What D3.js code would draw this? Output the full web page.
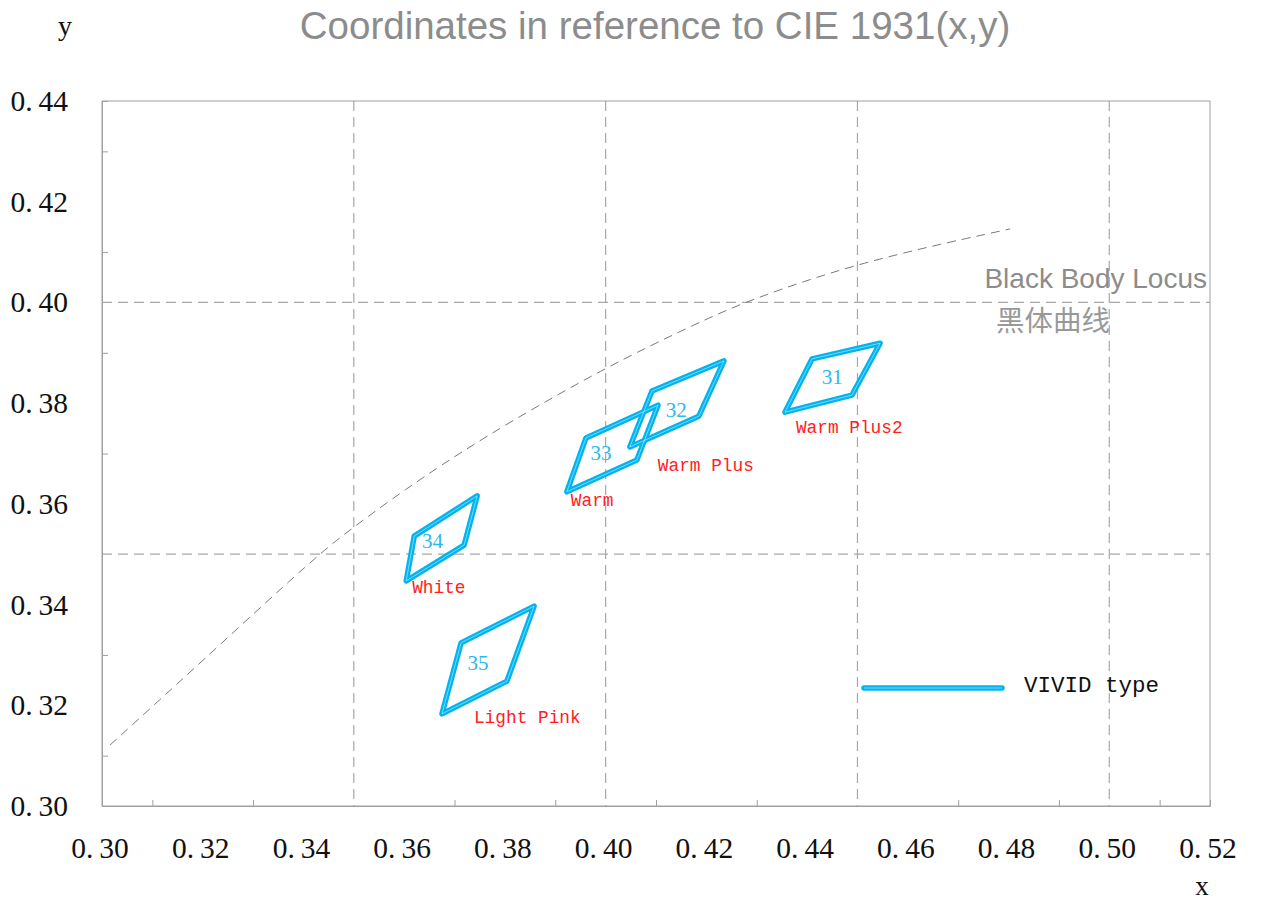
<!DOCTYPE html>
<html><head><meta charset="utf-8">
<script src="https://cdn.jsdelivr.net/npm/d3@7"></script>
<style>body{margin:0;background:#fff;} svg{display:block;}</style>
</head><body>
<svg id="c" width="1261" height="903"></svg>
<script>
// ---- data ----
const xTickValues = [0.30,0.32,0.34,0.36,0.38,0.40,0.42,0.44,0.46,0.48,0.50,0.52];
const yTickValues = [0.30,0.32,0.34,0.36,0.38,0.40,0.42,0.44];
const minorXTicks = [0.31,0.33,0.37,0.39,0.41,0.43,0.47,0.49,0.51];
const minorYTicks = [0.31,0.33,0.37,0.39,0.41,0.43];
const gridX = [0.35,0.40,0.45,0.50];
const gridY = [0.35,0.40];
// black body locus (x, y)
const bbX = [0.3016,0.3195,0.3429,0.3500,0.3592,0.3751,0.4000,0.4187,0.4273,0.4501,0.4803];
const bbY = [0.3121,0.3284,0.3500,0.3554,0.3622,0.3729,0.3872,0.3961,0.4000,0.4080,0.4146];
// quadrangles
const quadIds = ["31","32","33","34","35"];
const quadNames = ["Warm Plus2","Warm Plus","Warm","White","Light Pink"];
const quadXs = [
  [0.4356,0.4410,0.4545,0.4489],
  [0.4048,0.4092,0.4235,0.4185],
  [0.3923,0.3961,0.4104,0.4062],
  [0.3604,0.3620,0.3745,0.3719],
  [0.3675,0.3713,0.3858,0.3804]
];
const quadYs = [
  [0.3782,0.3888,0.3919,0.3816],
  [0.3713,0.3824,0.3884,0.3774],
  [0.3624,0.3731,0.3796,0.3687],
  [0.3447,0.3536,0.3616,0.3518],
  [0.3183,0.3324,0.3397,0.3248]
];
const legendLabel = "VIVID type";

// ---- layout ----
const L=102, R=1210, T=101, B=806;
const x = d3.scaleLinear().domain([0.30,0.52]).range([L,R]);
const y = d3.scaleLinear().domain([0.30,0.44]).range([B,T]);
const svg = d3.select("#c");
const gray = "#8c8c8c";
const cyan = "#00b4f0";
const inner = "rgba(230,248,255,0.75)";
const serif = "'Liberation Serif','Times New Roman',serif";
const sans = "'Liberation Sans',Arial,sans-serif";
const mono = "'Liberation Mono','DejaVu Sans Mono',monospace";

// grid
svg.append("g").selectAll("line").data(gridX).join("line")
  .attr("x1",d=>x(d)).attr("x2",d=>x(d)).attr("y1",T).attr("y2",B)
  .attr("stroke","#a8a8a8").attr("stroke-width",1.2).attr("stroke-dasharray","10,6");
svg.append("g").selectAll("line").data(gridY).join("line")
  .attr("y1",d=>y(d)).attr("y2",d=>y(d)).attr("x1",L).attr("x2",R)
  .attr("stroke","#a8a8a8").attr("stroke-width",1.2).attr("stroke-dasharray","10,6");

// frame
svg.append("rect").attr("x",L).attr("y",T).attr("width",R-L).attr("height",B-T)
  .attr("fill","none").attr("stroke","#a0a0a0").attr("stroke-width",1);

// axes with minor ticks (inward)
const gx = svg.append("g").attr("transform",`translate(0,${B})`)
  .call(d3.axisBottom(x).tickValues(minorXTicks).tickSize(-6).tickFormat(""));
const gy = svg.append("g").attr("transform",`translate(${L},0)`)
  .call(d3.axisLeft(y).tickValues(minorYTicks).tickSize(-6).tickFormat(""));
[gx,gy].forEach(g=>{g.select(".domain").attr("stroke","#a0a0a0");g.selectAll(".tick line").attr("stroke","#a0a0a0");});

// tick labels
function fmtLabel(sel,d){
  const s=d.toFixed(2);
  sel.append("tspan").text(s.slice(0,2));
  sel.append("tspan").attr("dx",6).text(s.slice(2));
}
svg.append("g").selectAll("text").data(xTickValues).join("text")
  .attr("x",d=>x(d)-2).attr("y",858).attr("text-anchor","middle")
  .attr("font-family",serif).attr("font-size",29.5).attr("fill","#111")
  .each(function(d){fmtLabel(d3.select(this),d);});
svg.append("g").selectAll("text").data(yTickValues).join("text")
  .attr("x",68).attr("y",d=>y(d)+10).attr("text-anchor","end")
  .attr("font-family",serif).attr("font-size",29.5).attr("fill","#111")
  .each(function(d){fmtLabel(d3.select(this),d);});

// axis names
svg.append("text").attr("x",65).attr("y",35).attr("text-anchor","middle")
  .attr("font-family",serif).attr("font-size",28).attr("fill","#111").text("y");
svg.append("text").attr("x",1202).attr("y",895).attr("text-anchor","middle")
  .attr("font-family",serif).attr("font-size",27).attr("fill","#111").text("x");

// title
svg.append("text").attr("x",655).attr("y",39).attr("text-anchor","middle")
  .attr("font-family",sans).attr("font-size",38.5)
  .attr("fill",gray).text("Coordinates in reference to CIE 1931(x,y)");

// black body locus
const bb = bbX.map((v,i)=>[v,bbY[i]]);
svg.append("path").datum(bb)
  .attr("d",d3.line().x(d=>x(d[0])).y(d=>y(d[1])).curve(d3.curveBasis))
  .attr("fill","none").attr("stroke","#7a7a7a").attr("stroke-width",1).attr("stroke-dasharray","9,6");
svg.append("text").attr("x",1207).attr("y",288).attr("text-anchor","end")
  .attr("font-family",sans).attr("font-size",28)
  .attr("fill",gray).text("Black Body Locus");
svg.append("text").attr("x",1053).attr("y",331).attr("text-anchor","middle")
  .attr("font-family","'Noto Sans CJK SC',sans-serif").attr("font-size",28.5)
  .attr("fill","#999").text("黑体曲线");

// quadrangles
const line = d3.line().x(d=>x(d[0])).y(d=>y(d[1])).curve(d3.curveLinearClosed);
const quads = quadXs.map((xs,i)=>xs.map((v,j)=>[v,quadYs[i][j]]));
const gq = svg.append("g");
gq.selectAll("path.o").data(quads).join("path").attr("class","o")
  .attr("d",line).attr("fill","none").attr("stroke",cyan).attr("stroke-width",5.5)
  .attr("stroke-linejoin","round");
gq.selectAll("path.i").data(quads).join("path").attr("class","i")
  .attr("d",line).attr("fill","none").attr("stroke",inner).attr("stroke-width",0.7)
  .attr("stroke-linejoin","round");

// id labels: centred in each quadrangle
const idDx=[0,0,-11,-8,-8], idDy=[0,6,4,2,2];
svg.append("g").selectAll("text").data(quads).join("text")
  .attr("x",(d,i)=>x(d3.mean(d,p=>p[0]))+idDx[i])
  .attr("y",(d,i)=>y(d3.mean(d,p=>p[1]))+7+idDy[i])
  .attr("text-anchor","middle").attr("font-family",serif).attr("font-size",21)
  .attr("fill","#2ab8ee").text((d,i)=>quadIds[i]);

// name labels: below the lower-left corner
const nameDx=[11,28,4,6,32];
const nameDy=[21,24,14,12,9];
svg.append("g").selectAll("text").data(quads).join("text")
  .attr("x",(d,i)=>x(d[0][0])+nameDx[i]).attr("y",(d,i)=>y(d[0][1])+nameDy[i])
  .attr("font-family",mono).attr("font-size",17.8)
  .attr("fill","#ff2020").text((d,i)=>quadNames[i]);

// legend
svg.append("line").attr("x1",864).attr("x2",1002).attr("y1",688).attr("y2",688)
  .attr("stroke",cyan).attr("stroke-width",5.5).attr("stroke-linecap","round");
svg.append("line").attr("x1",864).attr("x2",1002).attr("y1",688).attr("y2",688)
  .attr("stroke",inner).attr("stroke-width",0.7);
svg.append("text").attr("x",1024).attr("y",692)
  .attr("font-family",mono).attr("font-size",22.5)
  .attr("fill","#111").text(legendLabel);
</script>
</body></html>
